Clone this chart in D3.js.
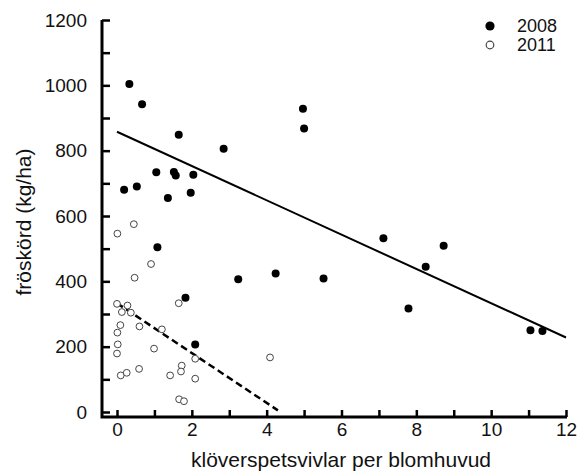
<!DOCTYPE html>
<html>
<head>
<meta charset="utf-8">
<script src="https://cdn.jsdelivr.net/npm/d3@7"></script>
<style>
  body { margin: 0; background: #fff; }
  text { font-family: "Liberation Sans", Arial, sans-serif; fill: #111; }
</style>
</head>
<body>
<svg id="chart" width="579" height="473"></svg>
<script>
// 2008, fyllda punkter
var x2008 = [0.33, 0.67, 1.65, 2.85, 1.05, 1.52, 1.57, 2.04, 0.19, 0.53, 1.97, 1.36, 1.08, 1.83, 2.09,
             4.97, 5.0, 3.24, 4.24, 5.52, 7.12, 8.73, 8.25, 7.79, 11.05, 11.37];
var y2008 = [1004, 942, 849, 806, 734, 735, 724, 726, 680, 690, 671, 655, 504, 350, 207,
             928, 868, 406, 424, 409, 532, 509, 445, 317, 250, 248];

// 2011, öppna punkter
var x2011 = [0.01, 0.45, 0.91, 0.47, 1.65, 0.0, 0.28, 0.13, 0.37, 0.09, 0.6, 0.01, 1.2, 0.02,
             0.0, 0.99, 2.09, 0.1, 0.26, 0.59, 1.42, 1.73, 1.71, 2.09, 1.66, 1.79, 4.09];
var y2011 = [546, 575, 453, 411, 333, 331, 326, 306, 304, 266, 262, 243, 253, 207,
             179, 194, 163, 112, 120, 132, 112, 142, 124, 102, 39, 33, 167];

// regressionslinjer (ändpunkter avlästa)
var fit2008X = [0, 12];
var fit2008Y = [858, 228];
var fit2011X = [0, 4.3];
var fit2011Y = [333, 5];

var xTicks = [0, 1, 2, 3, 4, 5, 6, 7, 8, 9, 10, 11, 12];
var yTicks = [0, 100, 200, 300, 400, 500, 600, 700, 800, 900, 1000, 1100, 1200];
var legendLabels = ["2008", "2011"];

var svg = d3.select("#chart");

var x = d3.scaleLinear().domain([0, 12]).range([117, 566]);
var y = d3.scaleLinear().domain([0, 1200]).range([412, 20]);
var axisX0 = 102, axisY0 = 417;

// y-axel
var yAxis = d3.axisLeft(y)
    .tickValues(yTicks)
    .tickSizeInner(-8)
    .tickSizeOuter(0)
    .tickPadding(15)
    .tickFormat(d => d % 200 === 0 ? d : "");
var gy = svg.append("g").attr("transform", `translate(${axisX0},0)`).call(yAxis);
gy.select(".domain").remove();
gy.selectAll(".tick line").attr("stroke", "#000").attr("stroke-width", 2.5);
gy.selectAll(".tick text").attr("font-size", 19).attr("font-family", "Liberation Sans, Arial, sans-serif").attr("fill", "#111");

// x-axel
var xAxis = d3.axisBottom(x)
    .tickValues(xTicks)
    .tickSizeInner(-7)
    .tickSizeOuter(0)
    .tickPadding(6)
    .tickFormat(d => d % 2 === 0 ? d : "");
var gx = svg.append("g").attr("transform", `translate(0,${axisY0})`).call(xAxis);
gx.select(".domain").remove();
gx.selectAll(".tick line").attr("stroke", "#000").attr("stroke-width", 2.5);
gx.selectAll(".tick text").attr("font-size", 19).attr("font-family", "Liberation Sans, Arial, sans-serif").attr("fill", "#111");

// axellinjer
svg.append("path")
   .attr("d", `M${axisX0},${y(1200)}V${axisY0}H${x(12) + 1}`)
   .attr("fill", "none")
   .attr("stroke", "#000")
   .attr("stroke-width", 3);

// axeltitlar
svg.append("text")
   .attr("x", 341)
   .attr("y", 467)
   .attr("text-anchor", "middle")
   .attr("font-size", 21)
   .text("klöverspetsvivlar per blomhuvud");

svg.append("text")
   .attr("transform", "translate(31,222) rotate(-90)")
   .attr("text-anchor", "middle")
   .attr("font-size", 21)
   .text("fröskörd (kg/ha)");

// linjer
var line = d3.line().x(d => x(d[0])).y(d => y(d[1]));
svg.append("path")
   .datum(fit2008X.map((v, i) => [v, fit2008Y[i]]))
   .attr("d", line)
   .attr("fill", "none")
   .attr("stroke", "#000")
   .attr("stroke-width", 2);
svg.append("path")
   .datum(fit2011X.map((v, i) => [v, fit2011Y[i]]))
   .attr("d", line)
   .attr("fill", "none")
   .attr("stroke", "#000")
   .attr("stroke-width", 2.5)
   .attr("stroke-dasharray", "7,4");

// punkter
svg.selectAll(".p2011")
   .data(x2011.map((v, i) => [v, y2011[i]]))
   .enter().append("circle")
   .attr("class", "p2011")
   .attr("cx", d => x(d[0]))
   .attr("cy", d => y(d[1]))
   .attr("r", 3.4)
   .attr("fill", "#fff")
   .attr("stroke", "#444")
   .attr("stroke-width", 1);

svg.selectAll(".p2008")
   .data(x2008.map((v, i) => [v, y2008[i]]))
   .enter().append("circle")
   .attr("class", "p2008")
   .attr("cx", d => x(d[0]))
   .attr("cy", d => y(d[1]))
   .attr("r", 4)
   .attr("fill", "#000");

// legend
var leg = svg.append("g");
leg.append("circle").attr("cx", 490).attr("cy", 26).attr("r", 4.6).attr("fill", "#000");
leg.append("circle").attr("cx", 490).attr("cy", 45).attr("r", 3.8).attr("fill", "#fff")
   .attr("stroke", "#444").attr("stroke-width", 1.2);
leg.selectAll(".lt")
   .data(legendLabels)
   .enter().append("text")
   .attr("x", 517)
   .attr("y", (d, i) => 32 + i * 19)
   .attr("font-size", 18)
   .text(d => d);
</script>
</body>
</html>
